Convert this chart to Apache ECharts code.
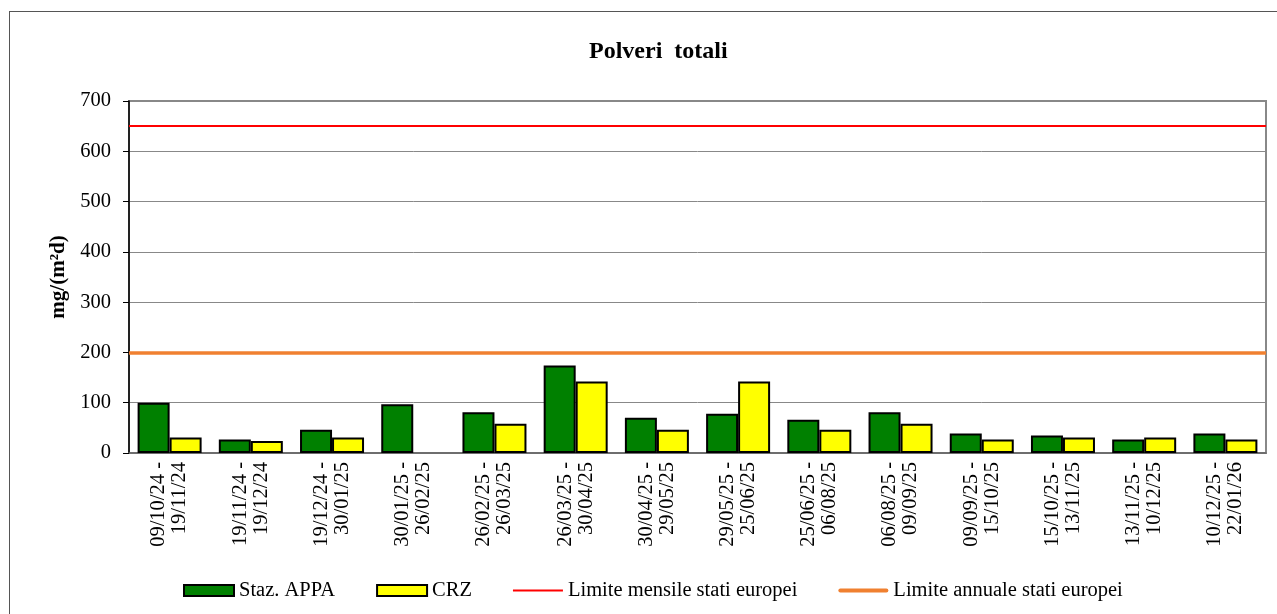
<!DOCTYPE html>
<html>
<head>
<meta charset="utf-8">
<title>Polveri totali</title>
<script src="https://cdn.jsdelivr.net/npm/echarts@6/dist/echarts.min.js"></script>
<style>
  html, body { margin: 0; padding: 0; background: #fff; }
  .frame { position: absolute; left: 9px; top: 11px; width: 1300px; height: 700px; border-left: 1px solid #555; border-top: 1px solid #555; }
  .myChart { position: absolute; left: 0; top: 0; width: 1277px; height: 614px; }
</style>
</head>
<body>
<div class="frame"></div>
<div class="myChart" id="myEchart"></div>
<script>
// periodi di campionamento
const periodi = [
  '09/10/24 -\n19/11/24', '19/11/24 -\n19/12/24', '19/12/24 -\n30/01/25', '30/01/25 -\n26/02/25',
  '26/02/25 -\n26/03/25', '26/03/25 -\n30/04/25', '30/04/25 -\n29/05/25', '29/05/25 -\n25/06/25',
  '25/06/25 -\n06/08/25', '06/08/25 -\n09/09/25', '09/09/25 -\n15/10/25', '15/10/25 -\n13/11/25',
  '13/11/25 -\n10/12/25', '10/12/25 -\n22/01/26'
];
const stazAPPA = [100, 27, 46, 97, 81, 174, 70, 78, 66, 81, 39, 35, 27, 39];
const crz = [31, 24, 31, null, 58, 142, 46, 142, 46, 58, 27, 31, 31, 27];
const limiteMensile = 650;
const limiteAnnuale = 200;
const yTicks = [0, 100, 200, 300, 400, 500, 600, 700];

const font = 'Liberation Serif, Times New Roman, serif';

const initChart = () => {
  let myChart = echarts.init(document.getElementById('myEchart'));
  myChart.setOption({
    animation: false,
    textStyle: { fontFamily: font, color: '#000' },
    title: {
      text: 'Polveri  totali',
      left: 584,
      top: 35,
      textStyle: { fontFamily: font, fontWeight: 'bold', fontSize: 24, color: '#000' }
    },
    legend: {
      top: 580,
      left: 183,
      padding: 0,
      itemWidth: 50,
      itemHeight: 11,
      itemGap: 41,
      textStyle: { fontFamily: font, fontSize: 20.5, color: '#000' },
      data: [
        { name: 'Staz. APPA', icon: 'rect', itemStyle: { borderColor: '#000', borderWidth: 2 } },
        { name: 'CRZ', icon: 'rect', itemStyle: { borderColor: '#000', borderWidth: 2 } },
        { name: 'Limite mensile stati europei', icon: 'path://M0,0H50V2H0Z', itemStyle: { borderWidth: 0 } },
        { name: 'Limite annuale stati europei', icon: 'path://M2,0H48A2,2,0,0,1,48,4H2A2,2,0,0,1,2,0Z', itemStyle: { borderWidth: 0 } }
      ]
    },
    grid: {
      left: 129,
      right: 11,
      top: 101,
      bottom: 161,
      show: true,
      borderColor: '#888',
      borderWidth: 2
    },
    xAxis: {
      type: 'category',
      data: periodi,
      axisLine: { lineStyle: { color: '#666', width: 1.5 } },
      axisTick: { length: 6, lineStyle: { color: '#666' } },
      axisLabel: {
        rotate: 90,
        interval: 0,
        margin: 9,
        fontSize: 20.5,
        lineHeight: 21,
        color: '#000',
        fontFamily: font
      }
    },
    yAxis: {
      type: 'value',
      min: yTicks[0],
      max: yTicks[yTicks.length - 1],
      interval: 100,
      name: 'mg/(m²d)',
      nameLocation: 'middle',
      nameGap: 60,
      nameTextStyle: { fontFamily: font, fontWeight: 'bold', fontSize: 21, color: '#000' },
      axisLine: { show: true, lineStyle: { color: '#000', width: 1.5 } },
      axisTick: { show: true, length: 6, lineStyle: { color: '#000' } },
      axisLabel: { margin: 18, fontSize: 20.5, color: '#000', fontFamily: font },
      splitLine: { lineStyle: { color: '#888', width: 1 } }
    },
    series: [
      {
        name: 'Staz. APPA',
        type: 'bar',
        data: stazAPPA,
        barWidth: 32,
        barGap: '0%',
        itemStyle: { color: '#008000', borderColor: '#000', borderWidth: 2 }
      },
      {
        name: 'CRZ',
        type: 'bar',
        data: crz,
        barWidth: 32,
        itemStyle: { color: '#ffff00', borderColor: '#000', borderWidth: 2 }
      },
      {
        name: 'Limite mensile stati europei',
        type: 'line',
        data: [],
        symbol: 'none',
        color: '#ff0000',
        itemStyle: { color: '#ff0000' },
        lineStyle: { color: '#ff0000', width: 2 },
        markLine: {
          silent: true,
          symbol: 'none',
          label: { show: false },
          lineStyle: { color: '#ff0000', width: 2, type: 'solid' },
          data: [{ yAxis: limiteMensile }]
        }
      },
      {
        name: 'Limite annuale stati europei',
        type: 'line',
        data: [],
        symbol: 'none',
        color: '#f08030',
        itemStyle: { color: '#f08030' },
        lineStyle: { color: '#f08030', width: 4 },
        markLine: {
          silent: true,
          symbol: 'none',
          label: { show: false },
          lineStyle: { color: '#f08030', width: 3.5, type: 'solid' },
          data: [{ yAxis: limiteAnnuale }]
        }
      }
    ]
  });
  window.onresize = function () {
    myChart.resize();
  };
};

initChart();
</script>
</body>
</html>
